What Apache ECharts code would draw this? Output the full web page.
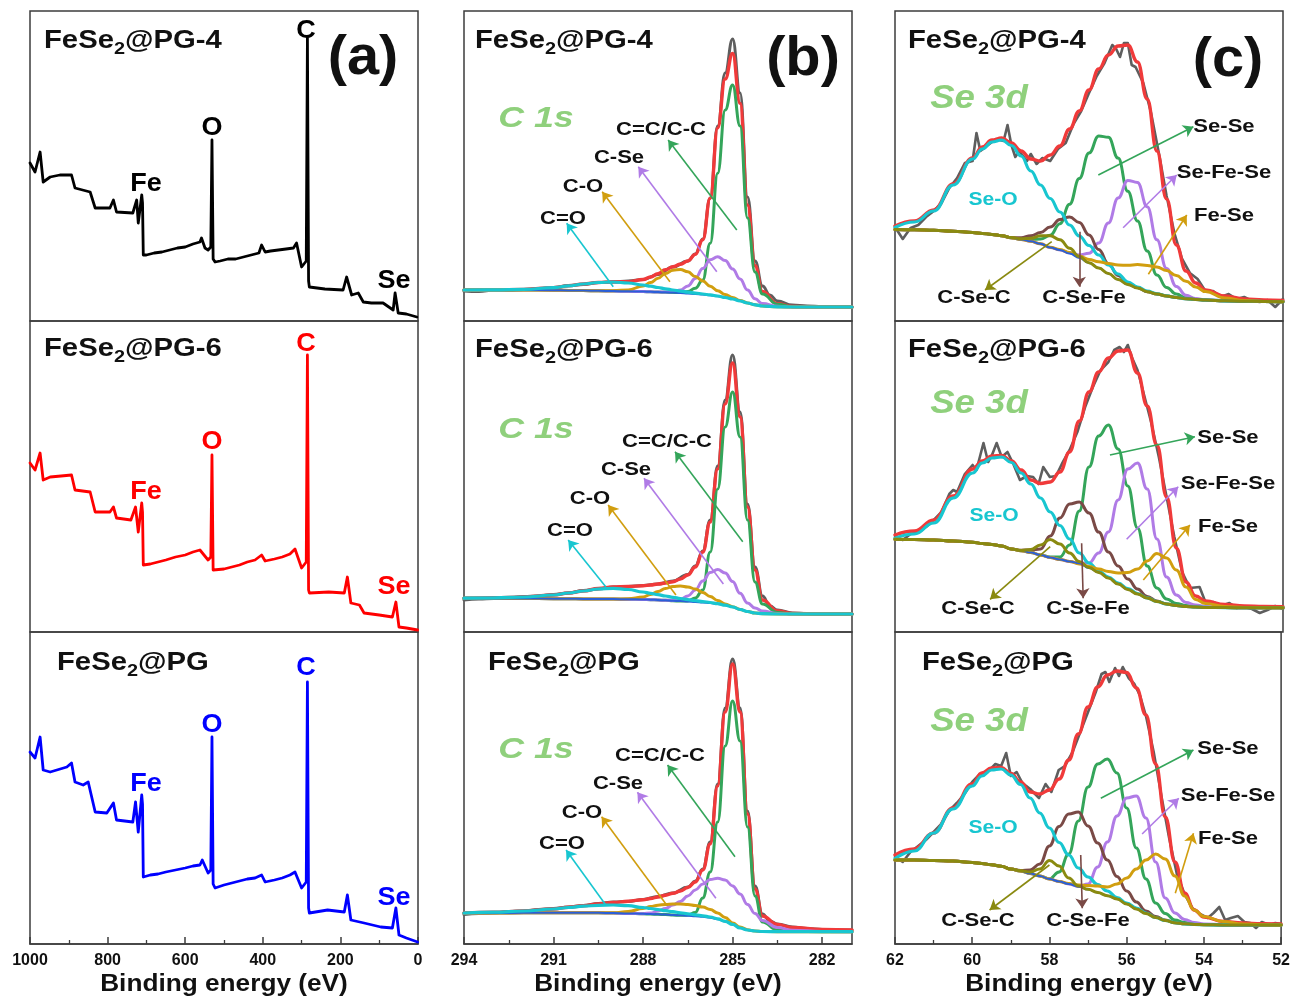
<!DOCTYPE html>
<html><head><meta charset="utf-8">
<script src="https://cdn.jsdelivr.net/npm/echarts@6/dist/echarts.min.js"></script>
<style>html,body{margin:0;padding:0;background:#fff}#c{width:1293px;height:998px}</style>
</head><body><div id="c"></div>
<script>
// ================= DATA =================
// (a) XPS survey spectra: [binding energy (eV), intensity (a.u.)]
const surveyPG4 = [[1000,158],[987,149],[974,169],[966,139],[948,144],[923,146],[893,146],[884,133],[845,129],[832,113],[794,113],[785,121],[777,109],[735,108],[725,121],[721,98],[712,126],[710,118],[708,66],[700,66],[680,68],[660,69],[640,71],[620,73],[600,74],[580,77],[562,79],[558,83],[549,73],[541,71],[534,74],[531,181],[528,62],[523,59],[510,60],[490,62],[470,62],[450,64],[430,66],[410,68],[403,76],[394,69],[380,70],[360,71],[340,72],[321,73],[313,78],[300,54],[288,60],[285,283],[282,40],[280,34],[240,32],[193,31],[184,44],[171,26],[154,28],[141,19],[120,18],[90,18],[64,11],[59,28],[51,8],[30,7],[3,4]];
const surveyPG6 = [[1000,169],[987,162],[974,179],[966,152],[948,155],[920,156],[893,157],[884,142],[845,140],[832,120],[794,120],[785,125],[777,114],[740,112],[728,125],[721,100],[712,129],[710,120],[708,67],[690,68],[670,70],[650,72],[625,75],[600,77],[580,80],[562,82],[558,83],[541,72],[534,75],[531,177],[528,62],[523,61],[500,63],[480,65],[460,67],[440,70],[420,72],[403,77],[394,71],[370,73],[350,75],[330,78],[317,83],[300,64],[288,70],[285,277],[282,42],[280,39],[230,40],[190,39],[182,55],[173,29],[151,27],[139,19],[100,17],[66,15],[57,30],[49,5],[30,4],[1,2]];
const surveyPG = [[1000,192],[987,186],[974,207],[966,174],[948,172],[905,177],[893,181],[884,162],[863,159],[850,162],[832,132],[802,131],[785,141],[777,124],[735,122],[728,142],[721,112],[712,149],[710,140],[708,67],[690,69],[670,70],[650,72],[625,74],[600,76],[580,78],[562,79],[556,84],[541,71],[534,74],[531,207],[528,60],[523,56],[500,59],[480,61],[460,63],[440,65],[420,66],[403,69],[394,62],[370,64],[350,66],[330,69],[317,72],[300,56],[288,62],[285,262],[282,36],[280,31],[233,34],[190,32],[182,49],[173,24],[139,21],[96,17],[66,16],[57,36],[49,9],[30,6],[1,2]];

// (b) C 1s fits, common energy grid
const c1sE = [294,293,292,291,290.5,290,289.5,289,288.5,288,287.75,287.5,287.25,287,286.75,286.5,286.25,286,285.75,285.5,285.25,285,284.75,284.5,284.25,284,283.5,283,282,281];
const c1sBg4   = [31,31,31,30.8,30.6,30.4,30.2,30,29.7,29.4,29.2,29,28.7,28.4,28,27.6,27,26.4,25.7,24.8,23.5,22,20,18,16.2,15,14.2,14,14,14];
const c1sCO2_4 = [31,31.1,31.6,33.4,35.1,37,38.5,39,38,36,34.8,33.5,32.2,31,29.9,28.9,27.9,27,26.1,25,23.5,22,20,18,16.2,15,14.2,14,14,14];
const c1sCO_4  = [31,31,31,30.8,30.6,30.4,30.2,30.2,31.1,34.9,38.4,42.7,47.5,50.8,51.5,49.2,44.5,40,34.7,30.3,26.5,23.5,20.6,18.1,16.2,15,14.2,14,14,14];
const c1sCSe4  = [31,31,31,30.8,30.6,30.4,30.2,30,29.7,29.4,29.2,29,28.9,29.3,30.9,35.1,42.5,52.4,61.3,64.3,60.5,52,42,31,22.2,17.5,14.7,14,14,14];
const c1sCC4   = [31,31,31,30.8,30.6,30.4,30.2,30,29.7,29.4,29.2,29,28.7,28.4,28.5,29.6,32.7,41,77.7,147.7,211,236,195,103,49,27,16.7,14.2,14,14];
const c1sFit4  = [31,31.1,31.6,33.4,35.1,37,38.5,39.2,39.4,41.5,44,47.3,51.2,54.3,56.8,60,66.6,81.2,122.7,193,242,267.5,217.6,116,55.2,29.5,17.2,14.5,14,14];
const c1sRaw4  = [[294,30],[293.5,29.5],[293,31],[292.5,30.5],[292,31.5],[291.5,32.5],[291,33],[290.5,35.5],[290,36.5],[289.5,38.5],[289,39],[288.5,40],[288,41.5],[287.5,46.5],[287,54],[286.5,60],[286.25,67],[286,82],[285.75,123],[285.5,195],[285.25,248],[285,282],[284.75,228],[284.5,124],[284.25,60],[284,35],[283.75,26],[283.5,20],[283,16],[282.5,15],[282,14.5],[281.5,14],[281,14]];

const c1sBg6   = [33.7,33.6,33.5,33.3,33.2,33.1,33,32.9,32.8,32.6,32.3,32,31.7,31.3,30.9,30.5,30,29.6,29,28,26.7,25,22.5,20.5,19,18.3,18,18,18,18];
const c1sCO2_6 = [33.8,34.2,35,37,39,41,43,43.7,42.5,40,38.7,37.3,36,34.7,33.5,32.4,31.4,30.4,29.5,28.3,26.8,25,22.5,20.5,19,18.3,18,18,18,18];
const c1sCO_6  = [33.7,33.6,33.5,33.3,33.2,33.1,33,32.9,33.3,35,37.5,40.5,43.5,45.5,46,45,43,39.5,35.5,31.5,28,25.3,22.5,20.5,19,18.3,18,18,18,18];
const c1sCSe6  = [33.7,33.6,33.5,33.3,33.2,33.1,33,32.9,32.8,32.6,32.3,32,31.7,31.6,32.5,36,42,51,59.5,62.5,59,50.5,38.7,29,24,21,18.5,18,18,18];
const c1sCC6   = [33.7,33.6,33.5,33.3,33.2,33.1,33,32.9,32.8,32.6,32.3,32,31.7,31.3,30.9,31,34,42,80,143,205,240,195,112,50,28,19.5,18.2,18,18];
const c1sFit6  = [33.8,34.2,35,37,39,41,43.5,45,45.5,46.3,47,48,49,50.3,53,57,65,80,110,163,228,269,215,125,62,32,21,18.5,18,18];
const c1sRaw6  = [[294,32],[293.5,33],[293,33.5],[292.5,34],[292,35.5],[291.5,36],[291,37.5],[290.5,39],[290,41.5],[289.5,43],[289,45],[288.5,45.5],[288,46.5],[287.5,48],[287,51],[286.5,57.5],[286.25,66],[286,81],[285.75,112],[285.5,166],[285.25,232],[285,277],[284.75,220],[284.5,128],[284.25,65],[284,36],[283.75,26],[283.5,22],[283,19],[282.5,18.5],[282,18],[281.5,18],[281,18]];

const c1sBgP   = [30.7,31,31.2,31.3,31.3,31.3,31.2,31,30.6,30.2,30,29.7,29.4,29,28.7,28.3,27.8,27.2,26.3,24.8,22.5,19.5,16,14,13,12.5,12.3,12.3,12.3,12.3];
const c1sCO2_P = [31,31.8,33,35,36.5,37.8,38.7,39,38.3,36.5,35.5,34.5,33.3,32.3,31.2,30.2,29.2,28.2,27,25.2,22.7,19.6,16,14,13,12.5,12.3,12.3,12.3,12.3];
const c1sCO_P  = [30.7,31,31.2,31.3,31.3,31.3,31.2,31.2,32.5,35.5,37.5,38.8,39.5,40,40,39.5,38.5,37,34.5,31,26.5,21,17,14.3,13,12.5,12.3,12.3,12.3,12.3];
const c1sCSeP  = [30.7,31,31.2,31.3,31.3,31.3,31.2,31,30.6,30.3,31,33,35.5,39,42.5,48,54,60,64.5,65.7,64,58,50,39.5,30.5,23.5,16.5,13.8,12.5,12.3];
const c1sCCP   = [30.7,31,31.2,31.3,31.3,31.3,31.2,31,30.6,30.2,30,29.7,29.4,29,28.7,29,31.5,46,72,122,198,243,203,117,48,22,14,12.5,12.3,12.3];
const c1sFitP  = [31,31.8,33,35,36.7,38.3,40,41.5,42.8,44.3,45.5,47,48.8,50.7,53,56.5,62,74,100,158,232,280,232,130,55,28,19.5,16.5,14.5,14];
const c1sRawP  = [[294,29.5],[293.5,30.5],[293,31],[292.5,32.5],[292,33],[291.5,34.5],[291,35.5],[290.5,37],[290,38.5],[289.5,40.5],[289,42],[288.5,42.5],[288,44.5],[287.5,47.5],[287,51],[286.5,57],[286.25,63],[286,75],[285.75,102],[285.5,160],[285.25,236],[285,285],[284.75,236],[284.5,133],[284.25,58],[284,30],[283.75,23],[283.5,20],[283,17],[282.5,15.5],[282,14.5],[281.5,14],[281,14]];

// (c) Se 3d fits, common energy grid
const se3dE = [62,61.5,61,60.5,60,59.75,59.5,59.25,59,58.75,58.5,58.25,58,57.75,57.5,57.25,57,56.75,56.5,56.25,56,55.75,55.5,55.25,55,54.75,54.5,54.25,54,53.5,53,52.5,52];
const seBg4    = [91.5,91.3,90.8,89.8,88.5,87.6,86.6,85.3,83.2,81.5,79.7,77.2,73.5,71,67.5,63,58,53,47.5,41.5,36.5,33,29.3,27,25,23.5,22.3,21.5,21,20.2,19.8,19.5,19.3];
const seSeO4   = [93.5,99,110,136,162,172,179,181,175.5,165,150,136,122.5,109,96,85,75.5,66,56,47,39,34,29.8,27.2,25.1,23.5,22.3,21.5,21,20.2,19.8,19.5,19.3];
const seCSeFe4 = [91.5,91.3,90.8,89.8,88.5,87.6,86.6,85.3,83.2,83.3,85.2,88.4,94,101.4,103.9,98.6,86,71.5,57.3,45.6,37.9,33.4,29.3,27,25,23.5,22.3,21.5,21,20.2,19.8,19.5,19.3];
const seCSeC4  = [91.5,91.3,90.8,89.8,88.5,87.6,86.6,85.3,83.4,82.3,82.7,85.2,85.3,81.2,72.7,64.4,58.3,53,47.5,41.5,36.5,33,29.3,27,25,23.5,22.3,21.5,21,20.2,19.8,19.5,19.3];
const seSeSe4  = [91.5,91.3,90.8,89.8,88.5,87.6,86.6,85.3,83.2,81.5,81.4,82,85.7,97.3,116.8,142.4,168,185,183.7,162.9,129.8,100,70,46,33.5,27,23.2,21.7,21,20.2,19.8,19.5,19.3];
const seSeFeSe4= [91.5,91.3,90.8,89.8,88.5,87.6,86.6,85.3,83.2,81.5,79.7,77.2,73.5,71,68.2,66,67.7,77.9,98,123,140.5,138.6,114.3,81.2,52.4,34.5,25.8,22.4,21.2,20.2,19.8,19.5,19.3];
const seFeSe4  = [91.5,91.3,90.8,89.8,88.5,87.6,86.6,85.3,83.2,81.5,79.7,77.2,73.7,71.4,68.4,64.9,61.6,59.3,57.5,56,55.7,56.5,55.6,54,50.4,45.4,39.7,34.1,29.4,23.1,20.5,19.6,19.3];
const seFit4   = [95,100,111,137,163,174,181,183,178,170,162,160,166,175,192,210,231,252,266,275,276,259,222,170,122,76,50,38,31,25,22,21,20.5];
const seRaw4   = [[62,94],[61.8,82],[61.6,93],[61.4,96],[61.2,104],[61,110],[60.8,118],[60.6,133],[60.4,143],[60.2,158],[60,160],[59.9,188],[59.8,170],[59.6,176],[59.4,182],[59.2,180],[59.1,196],[59,176],[58.9,164],[58.8,170],[58.6,160],[58.5,167],[58.35,157],[58.2,163],[58,160],[57.8,172],[57.6,178],[57.4,197],[57.2,210],[57,228],[56.8,245],[56.6,258],[56.4,276],[56.3,272],[56.2,264],[56.1,278],[56,278],[55.9,256],[55.8,254],[55.6,238],[55.4,208],[55.2,168],[55,125],[54.8,88],[54.6,62],[54.4,48],[54.2,42],[54,30],[53.8,30],[53.6,24],[53.4,27],[53.2,22],[53,24],[52.8,20],[52.6,19],[52.4,21],[52.2,14],[52,22]];

const seBg6    = [92.7,92.5,92,91,89.8,88.5,87.5,86,83,81.3,79.5,77,74.5,72.5,70.5,68.7,64,59.5,54,48,42.5,38,34,30.5,28,26.5,25.5,25,24.6,24.4,24.3,24.3,24.3];
const seSeO6   = [93.7,98,109,134,159,169,174,175,169.5,159,148,134,120,106.5,93,79,69,61,55,49,43.5,38.5,34.2,30.5,28,26.5,25.5,25,24.6,24.4,24.3,24.3,24.3];
const seCSeFe6 = [92.7,92.5,92,91,89.8,88.5,87.5,86,83,81.8,82,83,96,114,128,130,119,100,80,66,53,43,35.5,31,28,26.5,25.5,25,24.6,24.4,24.3,24.3,24.3];
const seCSeC6  = [92.7,92.5,92,91,89.8,88.5,87.5,86,83,81.5,82.5,87,92.5,88,79,70.5,64.5,59.5,54,48,42.5,38,34,30.5,28,26.5,25.5,25,24.6,24.4,24.3,24.3,24.3];
const seSeSe6  = [92.7,92.5,92,91,89.8,88.5,87.5,86,83,81.3,79.5,77,75,75,87,121,165,196,207,183,146,104,66,44,33,28.5,26.5,25.3,24.7,24.4,24.3,24.3,24.3];
const seSeFeSe6= [92.7,92.5,92,91,89.8,88.5,87.5,86,83,81.3,79.5,77,74.5,72.5,70.5,68.8,69,79,100,132,163,169,143,93,55,37,29.5,27,25.5,24.6,24.3,24.3,24.3];
const seFeSe6  = [92.7,92.5,92,91,89.8,88.5,87.5,86,83,81.3,79.5,77,74.5,72.5,70.6,68,65.5,63,60.5,59,59.5,63,71,78.5,74,62,45,32.5,28.5,25.5,24.6,24.3,24.3];
const seFit6   = [97,101,112,136,163,171,176,176.5,171,162,152,148.5,150,160,180,211,240,260,274,281,282,259,226,187,135,84,50,36,31,27.5,26,25.5,25.3];
const seRaw6   = [[62,95],[61.8,92],[61.6,98],[61.4,100],[61.2,105],[61,112],[60.8,120],[60.6,138],[60.5,142],[60.4,140],[60.2,158],[60,167],[59.9,162],[59.72,189],[59.6,170],[59.5,177],[59.38,189],[59.25,175],[59.1,180],[58.95,168],[58.78,152],[58.6,156],[58.44,155],[58.3,148],[58.18,165],[58.01,155],[57.85,156],[57.7,168],[57.5,182],[57.3,200],[57.1,225],[56.9,245],[56.7,262],[56.5,270],[56.35,282],[56.21,285],[56.1,280],[56,287],[55.9,275],[55.75,262],[55.6,240],[55.4,210],[55.2,175],[55,135],[54.8,95],[54.6,60],[54.4,44],[54.15,45],[54,30],[53.8,30],[53.6,26],[53.38,29],[53.2,24],[53,25],[52.8,23],[52.6,19],[52.4,22],[52.2,26],[52,23]];

const seBgP    = [84,84,83.5,83,81.5,80.5,79.3,77.8,75,73,70.5,68,65,62.5,60,57.3,54.5,51.5,48.3,45,40,35,30.5,26.5,23.5,21.3,20.2,19.6,19.3,19.1,19,19,19];
const seSeOP   = [85.5,93,111,135,158,168,174,175,169,159.5,146,131,116,101.5,89,76,67,59.5,53,46.5,41,36,31,26.5,23.5,21.3,20.2,19.6,19.3,19.1,19,19,19];
const seCSeFeP = [84,84,83.5,83,81.5,80.5,79.3,77.8,75,73.5,74,80,98,117.5,130,132,118,101,84,67.5,53,42,33,27.5,24,21.3,20.2,19.6,19.3,19.1,19,19,19];
const seCSeCP  = [84,84,83.5,83,81.5,80.5,79.3,77.8,75,73.2,72,75,83.5,78,66,58,54.7,51.5,48.3,45,40,35,30.5,26.5,23.5,21.3,20.2,19.6,19.3,19.1,19,19,19];
const seSeSeP  = [84,84,83.5,83,81.5,80.5,79.3,77.8,75,73,70.5,68,65.3,72,90,123,157,180,185,171,136,96,65,41,30.5,24,21.5,20,19.5,19.1,19,19,19];
const seSeFeSeP= [84,84,83.5,83,81.5,80.5,79.3,77.8,75,73,70.5,68,65,62.5,60,57.5,60,77,102,128,146,148,126,82,46,31,24.5,21.5,20,19.3,19,19,19];
const seFeSeP  = [84,84,83.5,83,81.5,80.5,79.3,77.8,75,73,70.5,68,65,62.5,60.5,59,58.5,58,57,60,66,75,84,90,85,68,48,34,27.5,22.5,20,19.3,19];
const seFitP   = [89,95,111,136,160,171,176,176.5,170.5,162,152,150,154,165,184,210,237,257,269,273,271.5,256,229,180,127,82,51,34,27,22.5,21,20.3,20];
const seRawP   = [[62,87],[61.8,82],[61.6,92],[61.4,98],[61.2,104],[61,112],[60.8,120],[60.6,133],[60.4,141],[60.2,150],[60,162],[59.8,170],[59.6,172],[59.4,180],[59.25,178],[59.12,191],[59,168],[58.85,172],[58.7,161],[58.5,155],[58.27,146],[58.1,160],[57.95,152],[57.76,174],[57.6,178],[57.4,192],[57.2,212],[57,232],[56.8,252],[56.65,270],[56.55,272],[56.45,262],[56.3,276],[56.2,268],[56.1,277],[55.95,266],[55.8,260],[55.65,248],[55.5,228],[55.3,192],[55.1,148],[54.9,106],[54.7,70],[54.5,50],[54.3,36],[54.1,30],[53.9,26],[53.75,31],[53.6,37],[53.45,24],[53.3,26],[53.12,28],[52.95,22],[52.8,21],[52.65,16],[52.5,22],[52.3,19],[52.15,21],[52,20]];

// tick labels
const ticksA = [1000,800,600,400,200,0];
const ticksB = [294,291,288,285,282];
const minorB = [292.5,289.5,286.5,283.5];
const ticksC = [62,60,58,56,54,52];

// annotation arrows [tailE, tailI, headE, headI]
const arrowsB = [
  {cc:[284.86,91,287.16,181], cse:[285.53,49.3,288.16,154.3], co:[287.10,39.3,289.37,129.3], co2:[289.0,34.3,290.56,97.7]},
  {cc:[284.66,90.3,286.93,180.3], cse:[285.31,48,287.97,153.7], co:[286.90,37,289.17,127], co2:[289.25,45.3,290.51,92]},
  {cc:[284.92,87.3,287.18,179], cse:[285.56,45.7,288.19,151.7], co:[287.21,39,289.39,127.3], co2:[289.25,39,290.58,94]}
];
const arrowsC = [
  {sese:[56.76,146,54.31,194.3], sefese:[56.12,93.3,54.74,146], fese:[55.47,46.7,54.48,106], csec:[57.96,79.3,59.68,31], csefe:[57.25,89.3,57.25,34.3]},
  {sese:[56.46,177,54.27,195.3], sefese:[56.03,92.7,54.70,145.3], fese:[55.60,52,54.40,107], csec:[58.0,85.3,59.55,32.7], csefe:[57.19,88.7,57.15,33.7]},
  {sese:[56.67,145.7,54.27,194], sefese:[55.60,110,54.65,145.7], fese:[54.74,50.7,54.27,110.7], csec:[58.0,79,59.55,34], csefe:[57.19,89,57.15,35.7]}
];

// ================= STYLE / LAYOUT =================
const FONT = '"Liberation Sans", Arial, Helvetica, sans-serif';
const SX = 1.16;
const COL = {gray:'#5e5e5e', red:'#f03a3a', green:'#34a55a', purple:'#b07be6', gold:'#d19e0f', cyan:'#18c6d0', blue:'#2a5fd8', olive:'#8a8a10', brown:'#7a4a46', lab:'#8fd07c'};
const colLeft = [30, 464, 895], colW = 388;
const rowTop = [11, 321, 632], rowH = [310, 311, 312];
const xRange = [[0,1000],[281,294],[52,62]];

const grids = [], xAxes = [], yAxes = [], series = [];
for (let r = 0; r < 3; r++) for (let c = 0; c < 3; c++) {
  const g = r*3 + c;
  grids.push({left: colLeft[c], top: rowTop[r], width: colW, height: rowH[r], show: true, borderColor: '#3c3c3c', borderWidth: 1.5, backgroundColor: 'transparent', containLabel: false});
  const bottom = r === 2;
  const ax = {type: 'value', gridIndex: g, position: 'bottom', min: xRange[c][0], max: xRange[c][1], inverse: true, show: bottom,
    splitLine: {show: false},
    axisLine: {show: true, lineStyle: {color: '#3c3c3c', width: 1.5}},
    axisTick: {show: true, inside: true, length: 7, lineStyle: {color: '#3c3c3c', width: 1.5}},
    axisLabel: {show: true, fontSize: 16, fontWeight: 'bold', color: '#111', fontFamily: FONT, margin: 9, formatter: v => String(v)}};
  if (c === 1) {
    ax.axisTick.customValues = ticksB; ax.axisLabel.customValues = ticksB;
  } else {
    ax.interval = c === 0 ? 200 : 2;
    ax.minorTick = {show: true, splitNumber: 2, length: 4, lineStyle: {color: '#3c3c3c', width: 1.3}};
  }
  xAxes.push(ax);
  yAxes.push({type: 'value', gridIndex: g, min: 0, max: rowH[r], show: false, splitLine: {show: false}});
}
// minor ticks for column (b) bottom: separate overlay grid (index 9)
grids.push({left: colLeft[1], top: rowTop[2], width: colW, height: rowH[2], show: false, containLabel: false});
xAxes.push({type: 'value', gridIndex: 9, position: 'bottom', min: 281, max: 294, inverse: true, show: true,
  axisLine: {show: false}, splitLine: {show: false},
  axisLabel: {show: true, customValues: minorB, color: 'rgba(0,0,0,0)', fontSize: 1},
  axisTick: {show: true, inside: true, length: 4, customValues: minorB, lineStyle: {color: '#3c3c3c', width: 1.3}}});
yAxes.push({type: 'value', gridIndex: 9, min: 0, max: rowH[2], show: false});

function zip(xs, ys) { return xs.map((x, i) => [x, ys[i]]); }
function ln(g, data, color, width, smooth, extra) {
  return Object.assign({type: 'line', xAxisIndex: g, yAxisIndex: g, data: data, symbol: 'none', showSymbol: false,
    smooth: smooth ? 0.45 : false, smoothMonotone: smooth ? 'x' : undefined, silent: true, animation: false,
    lineStyle: {color: color, width: width, cap: 'round', join: 'round'}, itemStyle: {color: color}, emphasis: {disabled: true}}, extra || {});
}
function arrow(a, color) {
  return {silent: true, animation: false, symbol: ['none', 'arrow'], symbolSize: 10, label: {show: false},
    lineStyle: {color: color, width: 1.6, type: 'solid'}, emphasis: {disabled: true},
    data: [[{coord: [a[0], a[1]]}, {coord: [a[2], a[3]]}]]};
}

// (a) surveys
series.push(ln(0, surveyPG4, '#000000', 2.8, false));
series.push(ln(3, surveyPG6, '#ff0000', 2.8, false));
series.push(ln(6, surveyPG, '#0000ff', 2.8, false));

// (b) C 1s
const bSets = [
  [c1sRaw4, c1sFit4, c1sCC4, c1sCSe4, c1sCO_4, c1sBg4, c1sCO2_4],
  [c1sRaw6, c1sFit6, c1sCC6, c1sCSe6, c1sCO_6, c1sBg6, c1sCO2_6],
  [c1sRawP, c1sFitP, c1sCCP, c1sCSeP, c1sCO_P, c1sBgP, c1sCO2_P]
];
bSets.forEach((s, r) => {
  const g = r*3 + 1, A = arrowsB[r];
  series.push(ln(g, s[0], COL.gray, 3, true));
  series.push(ln(g, zip(c1sE, s[1]), COL.red, 3.4, true));
  series.push(ln(g, zip(c1sE, s[2]), COL.green, 3, true, {markLine: arrow(A.cc, COL.green)}));
  series.push(ln(g, zip(c1sE, s[3]), COL.purple, 3, true, {markLine: arrow(A.cse, COL.purple)}));
  series.push(ln(g, zip(c1sE, s[4]), COL.gold, 3, true, {markLine: arrow(A.co, COL.gold)}));
  series.push(ln(g, zip(c1sE, s[5]), COL.blue, 2, true));
  series.push(ln(g, zip(c1sE, s[6]), COL.cyan, 3.2, true, {markLine: arrow(A.co2, COL.cyan)}));
});

// (c) Se 3d
const cSets = [
  [seRaw4, seFit4, seSeSe4, seSeFeSe4, seCSeFe4, seSeO4, seFeSe4, seBg4, seCSeC4],
  [seRaw6, seFit6, seSeSe6, seSeFeSe6, seCSeFe6, seSeO6, seFeSe6, seBg6, seCSeC6],
  [seRawP, seFitP, seSeSeP, seSeFeSeP, seCSeFeP, seSeOP, seFeSeP, seBgP, seCSeCP]
];
cSets.forEach((s, r) => {
  const g = r*3 + 2, A = arrowsC[r];
  series.push(ln(g, s[0], COL.gray, 2.6, false));
  series.push(ln(g, zip(se3dE, s[1]), COL.red, 3.4, true));
  series.push(ln(g, zip(se3dE, s[2]), COL.green, 3, true, {markLine: arrow(A.sese, COL.green)}));
  series.push(ln(g, zip(se3dE, s[3]), COL.purple, 3, true, {markLine: arrow(A.sefese, COL.purple)}));
  series.push(ln(g, zip(se3dE, s[4]), COL.brown, 3, true, {markLine: arrow(A.csefe, COL.brown)}));
  series.push(ln(g, zip(se3dE, s[5]), COL.cyan, 3.2, true));
  series.push(ln(g, zip(se3dE, s[6]), COL.gold, 3, true, {markLine: arrow(A.fese, COL.gold)}));
  series.push(ln(g, zip(se3dE, s[7]), COL.blue, 2, true));
  series.push(ln(g, zip(se3dE, s[8]), COL.olive, 3, true, {markLine: arrow(A.csec, COL.olive)}));
});

// ================= TEXT =================
const cv = document.createElement('canvas').getContext('2d');
function measure(t, size, style) { cv.font = (style || '') + ' bold ' + size + 'px ' + FONT; return cv.measureText(t).width; }
function txt(t, x, y, size, color, opts) {
  opts = opts || {};
  return {type: 'text', x: x, y: y, scaleX: opts.sx || SX, z: 100, silent: true,
    style: {text: t, fontSize: size, fontWeight: 'bold', fontStyle: opts.italic ? 'italic' : 'normal', fontFamily: FONT,
      fill: color || '#111', align: opts.align || 'center', verticalAlign: 'middle'}};
}
function title(x, y, suffix) {
  const parts = [['FeSe', 25, 0], ['2', 17, 8], [suffix, 25, 0]];
  const els = []; let cx = x; const sx = 1.17;
  parts.forEach(p => { els.push(txt(p[0], cx, y + p[2], p[1], '#111', {align: 'left', sx: sx})); cx += measure(p[0], p[1]) * sx; });
  return els;
}
const gfx = [];
// panel titles
gfx.push(...title(44, 41, '@PG-4'), ...title(44, 349.5, '@PG-6'), ...title(57, 663, '@PG'));
gfx.push(...title(475, 41, '@PG-4'), ...title(475, 350, '@PG-6'), ...title(488, 663, '@PG'));
gfx.push(...title(908, 41, '@PG-4'), ...title(908, 350.5, '@PG-6'), ...title(922, 663.5, '@PG'));
// panel letters
gfx.push(txt('(a)', 363, 59, 55, '#111', {sx: 1.05}), txt('(b)', 803, 60, 55, '#111', {sx: 1.05}), txt('(c)', 1228, 61, 55, '#111', {sx: 1.05}));
// survey element labels
const surveyLabels = [
  ['#000000', [['C',306,31],['O',212,128],['Fe',146,184],['Se',394,281]]],
  ['#ff0000', [['C',306,344],['O',212,442],['Fe',146,492],['Se',394,587]]],
  ['#0000ff', [['C',306,668],['O',212,725],['Fe',146,784],['Se',394,898]]]
];
surveyLabels.forEach(([col, list]) => list.forEach(l => gfx.push(txt(l[0], l[1], l[2], 25, col, {sx: 1.08}))));
// C 1s / Se 3d
[119, 430, 750].forEach(y => gfx.push(txt('C 1s', 536, y, 30, COL.lab, {italic: true, sx: 1.19})));
[99, 404, 722].forEach(y => gfx.push(txt('Se 3d', 979, y, 33, COL.lab, {italic: true, sx: 1.11})));
// C 1s peak labels
const bLab = [[[661,130],[619,158],[583,187],[563,219]], [[667,442],[626,470],[590,499],[570,531]], [[660,756],[618,784],[582,813],[562,844]]];
bLab.forEach(L => { ['C=C/C-C','C-Se','C-O','C=O'].forEach((t, i) => gfx.push(txt(t, L[i][0], L[i][1], 19, '#111'))); });
// Se 3d peak labels
const cLab = [
  {sese:[1224,127], sefese:[1224,173], fese:[1224,216], csec:[974,298], csefe:[1084,298], seo:[993,200]},
  {sese:[1228,438], sefese:[1228,484], fese:[1228,527], csec:[978,609], csefe:[1088,609], seo:[994,516]},
  {sese:[1228,749], sefese:[1228,796], fese:[1228,839], csec:[978,921], csefe:[1088,921], seo:[993,828]}
];
cLab.forEach(L => {
  gfx.push(txt('Se-Se', L.sese[0], L.sese[1], 19, '#111'));
  gfx.push(txt('Se-Fe-Se', L.sefese[0], L.sefese[1], 19, '#111'));
  gfx.push(txt('Fe-Se', L.fese[0], L.fese[1], 19, '#111'));
  gfx.push(txt('C-Se-C', L.csec[0], L.csec[1], 19, '#111'));
  gfx.push(txt('C-Se-Fe', L.csefe[0], L.csefe[1], 19, '#111'));
  gfx.push(txt('Se-O', L.seo[0], L.seo[1], 18, COL.cyan, {sx: 1.17}));
});
// axis titles
[224, 658, 1089].forEach(x => gfx.push(txt('Binding energy (eV)', x, 985, 23, '#111', {sx: 1.14})));

const chart = echarts.init(document.getElementById('c'), null, {renderer: 'canvas', width: 1293, height: 998});
chart.setOption({
  backgroundColor: '#ffffff', animation: false,
  grid: grids, xAxis: xAxes, yAxis: yAxes, series: series, graphic: gfx
});
</script></body></html>
